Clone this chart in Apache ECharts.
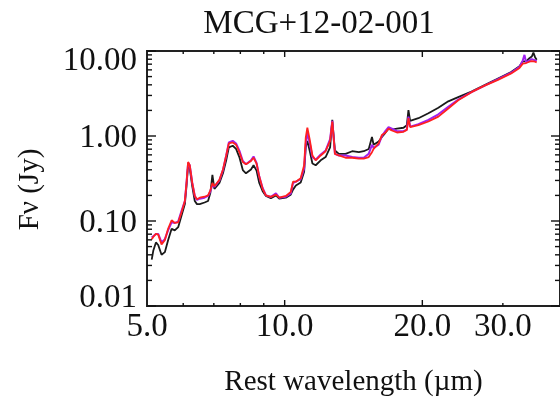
<!DOCTYPE html>
<html>
<head>
<meta charset="utf-8">
<script src="https://cdn.jsdelivr.net/npm/echarts@6/dist/echarts.min.js"></script>
<style>
html,body{margin:0;padding:0;background:#fff;}
#chart{width:560px;height:402px;}
</style>
</head>
<body>
<div id="chart"></div>
<script>
const titleText = 'MCG+12-02-001';
const wavelength = [
  5.12, 5.16, 5.23, 5.29, 5.38, 5.47, 5.56, 5.66, 5.75, 5.85,
  5.95, 6.05, 6.10, 6.15, 6.20, 6.28, 6.36, 6.43, 6.52, 6.68,
  6.80, 6.88, 6.95, 7.02, 7.20, 7.33, 7.45, 7.55, 7.70, 7.83,
  7.96, 8.10, 8.23, 8.44, 8.55, 8.68, 8.80, 8.95, 9.10, 9.33,
  9.57, 9.73, 10.06, 10.31, 10.43, 10.58, 10.84, 11.03, 11.12, 11.21,
  11.34, 11.50, 11.69, 11.99, 12.29, 12.57, 12.71, 12.88, 13.14, 13.59,
  14.05, 14.53, 14.89, 15.27, 15.52, 15.65, 16.05, 16.32, 16.60, 16.87,
  17.16, 17.60, 18.19, 18.50, 18.65, 18.81, 19.61, 20.62, 21.68, 22.79,
  23.96, 25.61, 27.37, 29.27, 31.28, 32.62, 33.17, 33.45, 33.73, 34.29,
  34.70, 34.99, 35.28, 35.57
];
const fluxPurple = [
  0.0639, 0.0668, 0.0704, 0.0704, 0.0560, 0.0611, 0.0775, 0.0965, 0.0949, 0.0983,
  0.132, 0.172, 0.280, 0.482, 0.453, 0.280, 0.197, 0.177, 0.183, 0.188,
  0.197, 0.224, 0.268, 0.252, 0.300, 0.397, 0.590, 0.839, 0.877, 0.817,
  0.674, 0.508, 0.465, 0.517, 0.575, 0.482, 0.333, 0.245, 0.200, 0.192,
  0.211, 0.188, 0.193, 0.211, 0.280, 0.290, 0.311, 0.415, 0.803, 1.09,
  0.839, 0.565, 0.526, 0.606, 0.674, 0.916, 1.51, 0.617, 0.590, 0.590,
  0.565, 0.555, 0.555, 0.617, 0.789, 0.722, 0.789, 1.00, 1.14, 1.27,
  1.22, 1.14, 1.14, 1.19, 1.69, 1.29, 1.38, 1.55, 1.80, 2.21,
  2.68, 3.28, 3.91, 4.66, 5.55, 6.50, 7.75, 9.00, 7.35, 7.75,
  8.03, 7.89, 7.75, 7.61
];
const fluxRed = [
  0.0611, 0.0650, 0.0704, 0.0691, 0.0531, 0.0595, 0.0810, 0.102, 0.0949, 0.0965,
  0.127, 0.172, 0.280, 0.495, 0.453, 0.280, 0.197, 0.180, 0.188, 0.193,
  0.200, 0.230, 0.280, 0.256, 0.305, 0.404, 0.590, 0.817, 0.839, 0.789,
  0.645, 0.495, 0.465, 0.508, 0.555, 0.474, 0.333, 0.239, 0.200, 0.192,
  0.204, 0.188, 0.197, 0.219, 0.290, 0.290, 0.319, 0.453, 0.957, 1.25,
  0.916, 0.590, 0.517, 0.590, 0.662, 0.877, 1.48, 0.617, 0.590, 0.555,
  0.555, 0.541, 0.541, 0.565, 0.645, 0.704, 0.817, 1.03, 1.09, 1.22,
  1.16, 1.10, 1.12, 1.18, 1.62, 1.27, 1.34, 1.48, 1.69, 2.11,
  2.63, 3.28, 3.91, 4.57, 5.45, 6.33, 7.10, 7.35, 7.22, 7.48,
  7.61, 7.61, 7.48, 7.35
];
const fluxBlack = [
  0.0351, 0.0446, 0.0560, 0.0522, 0.0401, 0.0430, 0.0595, 0.0810, 0.0775, 0.0846,
  0.116, 0.158, 0.256, 0.453, 0.415, 0.256, 0.172, 0.158, 0.158, 0.165,
  0.172, 0.215, 0.348, 0.239, 0.280, 0.364, 0.517, 0.735, 0.768, 0.704,
  0.565, 0.397, 0.364, 0.404, 0.453, 0.391, 0.280, 0.224, 0.197, 0.185,
  0.200, 0.183, 0.188, 0.204, 0.234, 0.261, 0.284, 0.380, 0.735, 0.877,
  0.674, 0.474, 0.453, 0.517, 0.565, 0.735, 1.55, 0.674, 0.617, 0.617,
  0.662, 0.645, 0.662, 0.704, 0.974, 0.789, 0.861, 0.974, 1.09, 1.22,
  1.19, 1.22, 1.25, 1.34, 2.02, 1.51, 1.62, 1.85, 2.15, 2.56,
  2.87, 3.33, 3.97, 4.74, 5.65, 6.62, 7.55, 7.75, 7.55, 8.24,
  8.61, 9.57, 8.46, 7.89
];
const xTickLabels = [5, 10, 20, 30];
const xMajorTicks = [10, 20];
const xMinorTicks = [6, 7, 8, 9, 30];
const yTickLabels = [0.01, 0.1, 1, 10];
const yMinorTicks = [0.02,0.03,0.04,0.05,0.06,0.07,0.08,0.09,0.2,0.3,0.4,0.5,0.6,0.7,0.8,0.9,2,3,4,5,6,7,8,9];
const X_MIN = 5, X_MAX = 40, Y_MIN = 0.01, Y_MAX = 10;

const FONT = 'Liberation Serif';
const INK = '#111';
const chart = echarts.init(document.getElementById('chart'), null, {renderer: 'canvas'});

function yFmt(v) {
  const s = v.toFixed(2);
  if (v > 5) return '{t|' + s + '}';
  if (v < 0.05) return '{b|' + s + '}';
  return '{m|' + s + '}';
}
const labStyle = {fontFamily: FONT, fontSize: 33, color: INK};

// tick marks drawn through the axes' own scales (api.coord)
function tickSeries(values, len, dim) {
  return {
    type: 'custom', xAxisIndex: 0, yAxisIndex: 0, clip: false, silent: true, z: 10,
    encode: dim === 'x' ? {x: 0} : {y: 0},
    data: values.map(v => [v]),
    renderItem: function (params, api) {
      const v = api.value(0);
      const st = {stroke: INK, lineWidth: 1.4};
      if (dim === 'x') {
        const b = api.coord([v, Y_MIN]);
        const t = api.coord([v, Y_MAX]);
        return {type: 'group', children: [
          {type: 'line', shape: {x1: b[0], y1: b[1], x2: b[0], y2: b[1] - len}, style: st},
          {type: 'line', shape: {x1: t[0], y1: t[1], x2: t[0], y2: t[1] + len}, style: st}
        ]};
      }
      const l = api.coord([X_MIN, v]);
      const r = api.coord([X_MAX, v]);
      return {type: 'group', children: [
        {type: 'line', shape: {x1: l[0], y1: l[1], x2: l[0] + len, y2: l[1]}, style: st},
        {type: 'line', shape: {x1: r[0], y1: r[1], x2: r[0] - len, y2: r[1]}, style: st}
      ]};
    }
  };
}

const option = {
  animation: false,
  backgroundColor: '#fff',
  title: {
    text: titleText, left: 319, top: 8, textAlign: 'center', padding: 0,
    textStyle: {fontFamily: FONT, fontSize: 33, fontWeight: 'normal', color: INK}
  },
  grid: {left: 147, top: 51, width: 415, height: 262, containLabel: false,
         show: true, borderColor: '#222', borderWidth: 2, backgroundColor: 'transparent'},
  xAxis: {
    type: 'log', logBase: 10, min: X_MIN, max: X_MAX, splitLine: {show: false},
    axisLine: {show: true, lineStyle: {color: '#222', width: 2}},
    axisTick: {show: false}, minorTick: {show: false},
    axisLabel: {customValues: xTickLabels, formatter: v => (Math.round(v * 10) / 10).toFixed(1),
      fontFamily: FONT, fontSize: 33, color: INK, margin: 5},
    name: 'Rest wavelength (µm)', nameLocation: 'middle', nameGap: 62,
    nameTextStyle: {fontFamily: FONT, fontSize: 29, color: INK}
  },
  yAxis: {
    type: 'log', logBase: 10, min: Y_MIN, max: Y_MAX, splitLine: {show: false},
    axisLine: {show: true, lineStyle: {color: '#222', width: 2}},
    axisTick: {show: false}, minorTick: {show: false},
    axisLabel: {customValues: yTickLabels, formatter: yFmt, margin: 10,
      fontFamily: FONT, fontSize: 33, color: INK,
      rich: {
        t: Object.assign({padding: [20, 0, 0, 0]}, labStyle),
        m: Object.assign({padding: [4, 0, 0, 0]}, labStyle),
        b: Object.assign({padding: [0, 0, 16, 0]}, labStyle)
      }},
    name: 'Fν (Jy)', nameLocation: 'middle', nameGap: 102,
    nameTextStyle: {fontFamily: FONT, fontSize: 29, color: INK, padding: [0, 22, 0, 0]}
  },
  series: [
    {name: 'black', type: 'line', showSymbol: false, symbol: 'none',
     data: wavelength.map((w, i) => [w, fluxBlack[i]]), lineStyle: {color: '#1a1a1a', width: 1.8}, z: 2},
    {name: 'purple', type: 'line', showSymbol: false, symbol: 'none',
     data: wavelength.map((w, i) => [w, fluxPurple[i]]), lineStyle: {color: '#a020f0', width: 2}, z: 3},
    {name: 'red', type: 'line', showSymbol: false, symbol: 'none',
     data: wavelength.map((w, i) => [w, fluxRed[i]]), lineStyle: {color: '#ff2020', width: 1.8}, z: 4},
    tickSeries(xMajorTicks, 6, 'x'),
    tickSeries(xMinorTicks, 3, 'x'),
    tickSeries(yTickLabels, 9, 'y'),
    tickSeries(yMinorTicks, 5, 'y')
  ]
};
chart.setOption(option);
</script>
</body>
</html>
